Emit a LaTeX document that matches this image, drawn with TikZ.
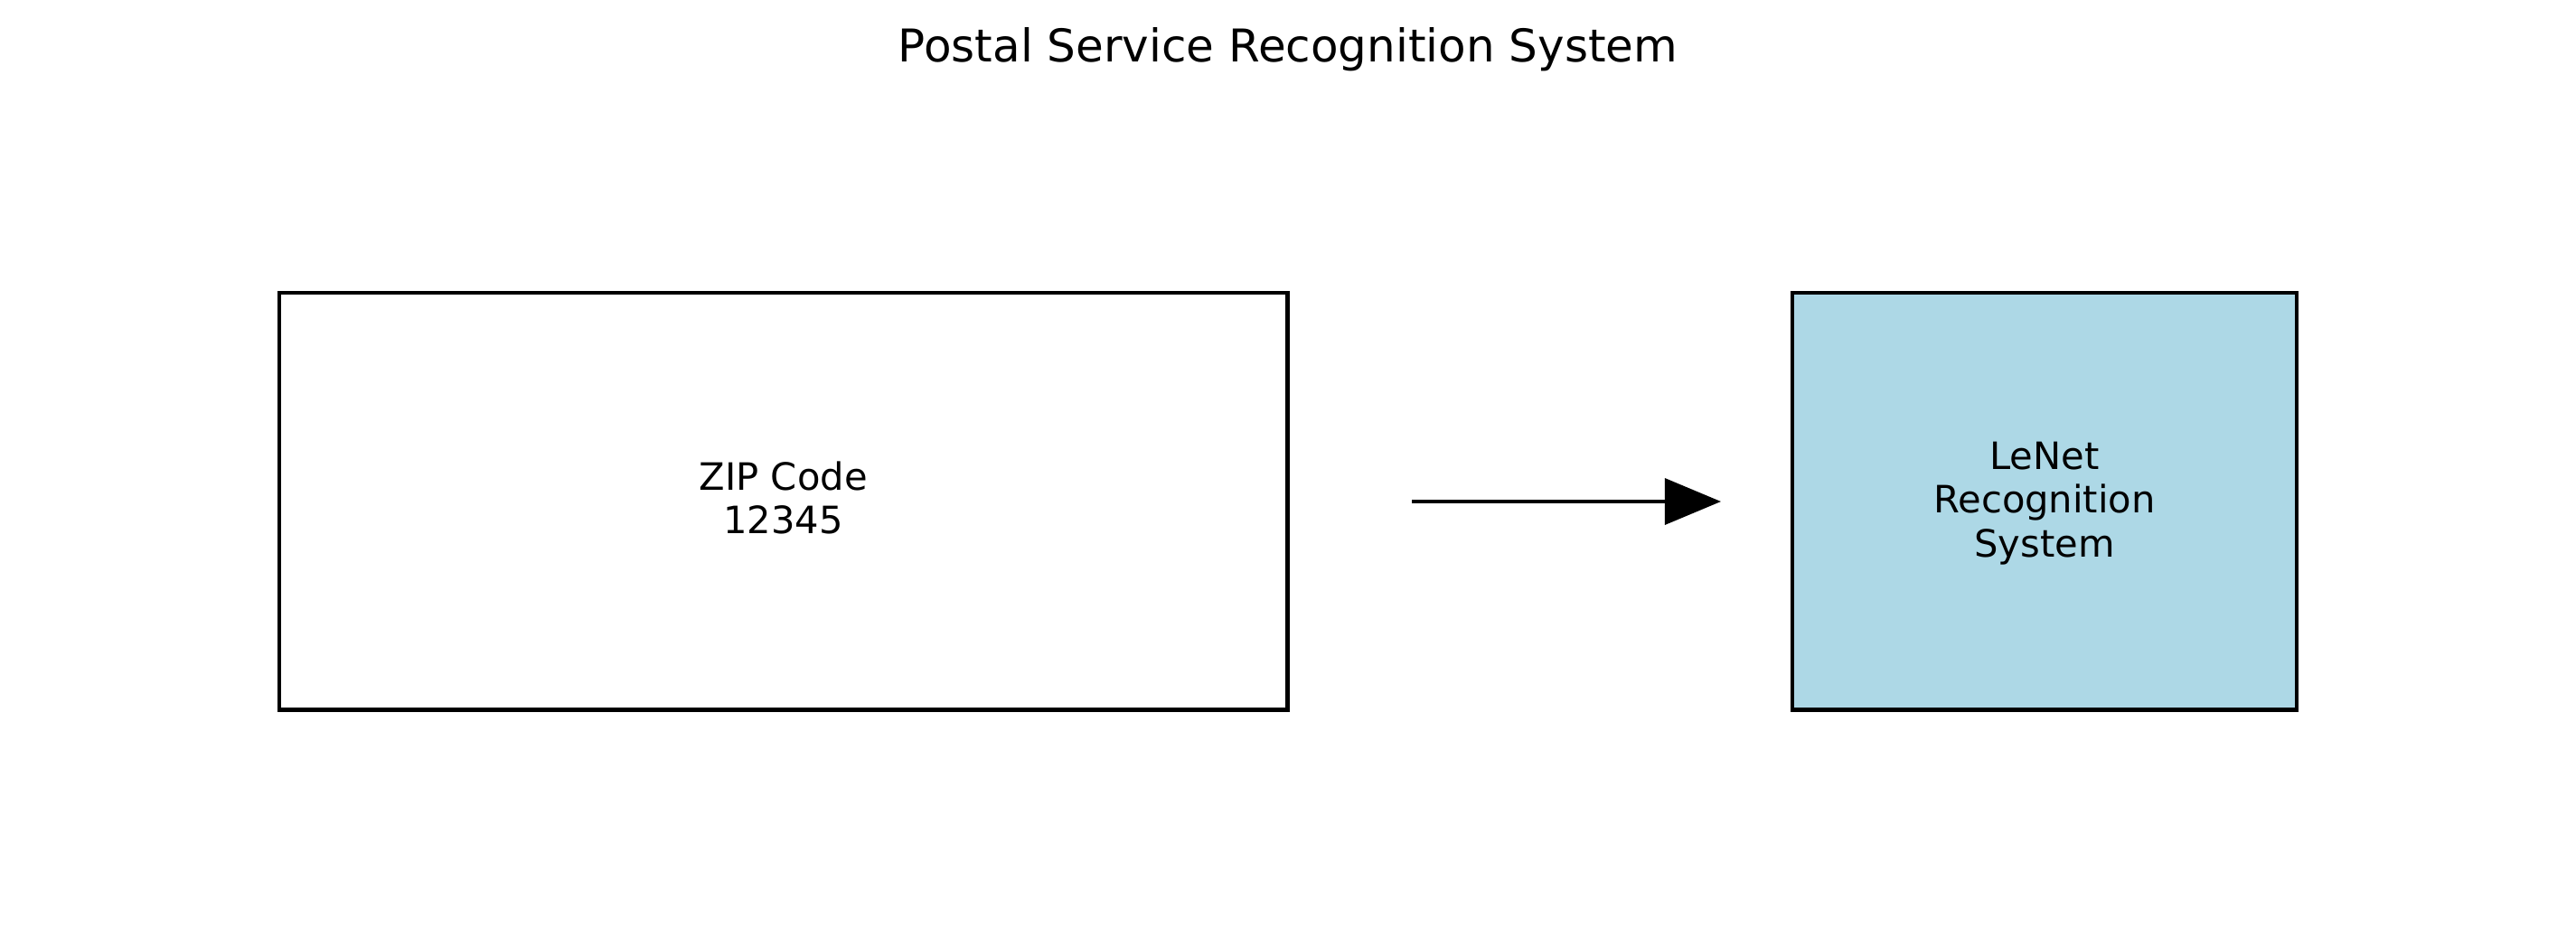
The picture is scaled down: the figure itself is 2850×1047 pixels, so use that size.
\documentclass[tikz,border=0pt]{standalone}
\usepackage{fontspec}
\setmainfont{DejaVu Sans}
\usetikzlibrary{arrows.meta}
\definecolor{lightbluefill}{HTML}{ADD8E6}
\tikzset{
  box/.style={draw=black, line width=1pt, inner sep=0pt, outer sep=0pt,
    minimum height=110.76pt, align=center, font=\fontsize{10}{11.6}\selectfont},
  titletext/.style={font=\fontsize{12}{14.4}\selectfont, anchor=base, inner sep=0pt},
  flow/.style={line width=1pt, -{Triangle[length=14.9pt, width=12.2pt]}}
}
\begin{document}
\begin{tikzpicture}[x=0.24pt, y=-0.24pt]
  \useasboundingbox (0,0) rectangle (2850,1047);
  \node[titletext] (title) at (1425,68) {Postal Service Recognition System};
  \node[box, minimum width=267.72pt] (zip) at (866.75,554.75) {};
  \node[align=center, font=\fontsize{10}{11.6}\selectfont, inner sep=0pt] (ziptext) at (866.75,551) {ZIP Code\\12345};
  \node[box, fill=lightbluefill, minimum width=133.92pt] (lenet) at (2262,554.75) {};
  \node[align=center, font=\fontsize{10}{11.6}\selectfont, inner sep=0pt] (lenettext) at (2262,557) {LeNet\\Recognition\\System};
  \coordinate (astart) at (1562,555);
  \coordinate (aend) at (1904,555);
  \draw[flow] (astart) -- (aend);
\end{tikzpicture}
\end{document}
